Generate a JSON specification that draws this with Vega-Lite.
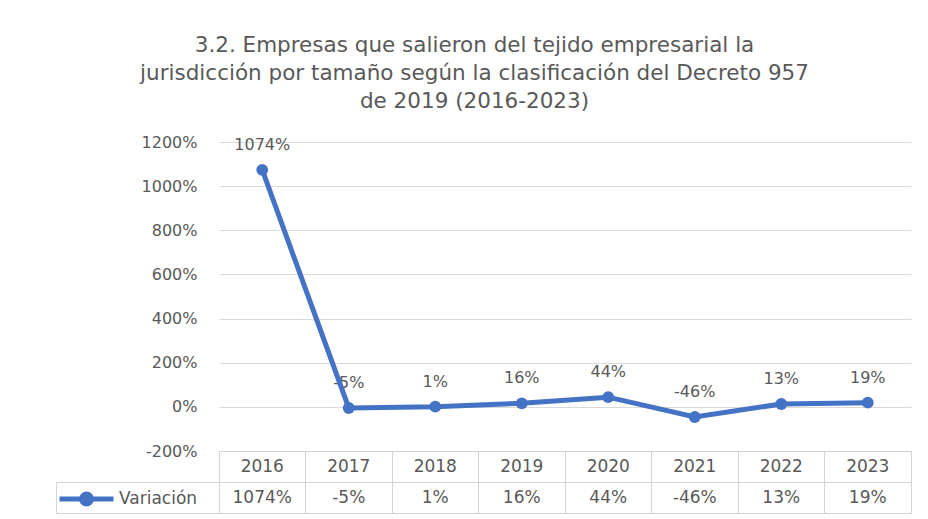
{
  "$schema": "https://vega.github.io/schema/vega-lite/v6.json",
  "padding": {"left": 55, "top": 34, "right": 18, "bottom": 6},
  "background": "white",
  "title": {
    "text": ["3.2. Empresas que salieron del tejido empresarial la", "jurisdicción por tamaño según la clasificación del Decreto 957", "de 2019 (2016-2023)"],
    "font": "DejaVu Sans", "fontSize": 21.5, "fontWeight": "normal", "color": "#595959",
    "lineHeight": 28, "anchor": "middle", "offset": 22, "dx": -9
  },
  "config": {
    "view": {"stroke": null},
    "locale": {"number": {"decimal": ".", "thousands": ",", "grouping": [3], "currency": ["$", ""], "minus": "-"}}
  },
  "datasets": {
    "d": [
      {"year": "2016", "v": 10.74},
      {"year": "2017", "v": -0.05},
      {"year": "2018", "v": 0.01},
      {"year": "2019", "v": 0.16},
      {"year": "2020", "v": 0.44},
      {"year": "2021", "v": -0.46},
      {"year": "2022", "v": 0.13},
      {"year": "2023", "v": 0.19}
    ]
  },
  "columns": 2,
  "spacing": 0,
  "bounds": "flush",
  "align": "each",
  "concat": [
    {
      "width": 163, "height": 309,
      "data": {"values": [{}]},
      "mark": {"type": "text"},
      "encoding": {"text": {"value": ""}}
    },
    {
      "width": 692, "height": 309,
      "data": {"name": "d"},
      "encoding": {
        "x": {"field": "year", "type": "ordinal", "scale": {"type": "point", "padding": 0.5}, "axis": null},
        "y": {
          "field": "v", "type": "quantitative",
          "scale": {"domain": [-2, 12], "nice": false, "zero": false},
          "axis": {
            "values": [-2, 0, 2, 4, 6, 8, 10, 12], "format": ".0%", "title": null,
            "grid": true, "gridColor": "#d9d9d9", "gridWidth": 1,
            "domain": false, "ticks": false, "tickSize": 0, "labelPadding": 22,
            "labelFont": "DejaVu Sans", "labelFontSize": 16, "labelColor": "#595959"
          }
        }
      },
      "layer": [
        {
          "mark": {"type": "text", "dy": -25, "font": "DejaVu Sans", "fontSize": 16, "color": "#595959"},
          "encoding": {"text": {"field": "v", "type": "quantitative", "format": ".0%"}}
        },
        {
          "mark": {"type": "line", "strokeWidth": 5},
          "encoding": {
            "color": {
              "datum": "Variación",
              "scale": {"range": ["#4472C4"]},
              "legend": {
                "orient": "none", "legendX": 19, "legendY": 345.5, "title": null, "padding": 0,
                "symbolType": "M-3,0H3M-0.55,0A0.55,0.55,0,1,0,0.55,0A0.55,0.55,0,1,0,-0.55,0",
                "symbolSize": 324, "symbolStrokeWidth": 5,
                "symbolFillColor": "#4472C4", "symbolStrokeColor": "#4472C4", "symbolOpacity": 1,
                "labelFont": "DejaVu Sans", "labelFontSize": 17, "labelColor": "#595959", "labelOffset": 21
              }
            }
          }
        },
        {
          "mark": {"type": "point", "filled": true, "size": 140, "opacity": 1},
          "encoding": {"color": {"datum": "Variación"}}
        }
      ]
    },
    {
      "width": 163, "height": 31,
      "data": {"values": [{}]},
      "mark": {"type": "text"},
      "encoding": {"text": {"value": ""}}
    },
    {
      "width": 692, "height": 31,
      "data": {"name": "d"},
      "view": {"stroke": "#d4d4d4"},
      "mark": {"type": "text", "font": "DejaVu Sans", "fontSize": 17, "color": "#595959"},
      "encoding": {
        "x": {
          "field": "year", "type": "ordinal",
          "scale": {"type": "band", "paddingInner": 0, "paddingOuter": 0},
          "axis": {"title": null, "labels": false, "ticks": false, "domain": false, "grid": true, "bandPosition": 0, "gridColor": "#d4d4d4"}
        },
        "text": {"field": "year"}
      }
    },
    {
      "width": 163, "height": 31,
      "data": {"values": [{}]},
      "view": {"stroke": "#d4d4d4"},
      "mark": {"type": "text"},
      "encoding": {"text": {"value": ""}}
    },
    {
      "width": 692, "height": 31,
      "data": {"name": "d"},
      "view": {"stroke": "#d4d4d4"},
      "mark": {"type": "text", "font": "DejaVu Sans", "fontSize": 17, "color": "#595959"},
      "encoding": {
        "x": {
          "field": "year", "type": "ordinal",
          "scale": {"type": "band", "paddingInner": 0, "paddingOuter": 0},
          "axis": {"title": null, "labels": false, "ticks": false, "domain": false, "grid": true, "bandPosition": 0, "gridColor": "#d4d4d4"}
        },
        "text": {"field": "v", "type": "quantitative", "format": ".0%"}
      }
    }
  ]
}
